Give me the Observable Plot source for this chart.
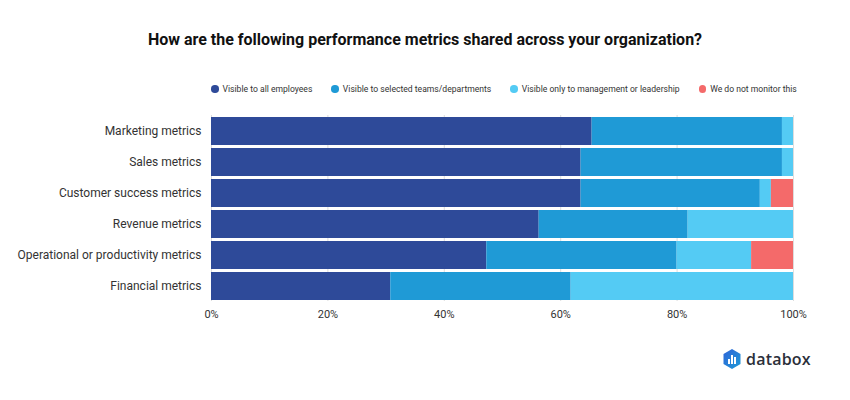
<!DOCTYPE html>
<html>
<head>
<meta charset="utf-8">
<script src="https://cdn.jsdelivr.net/npm/d3@7"></script>
<script src="https://cdn.jsdelivr.net/npm/@observablehq/plot@0.6"></script>
<style>
  html, body { margin: 0; padding: 0; background: #fff; }
  body { width: 850px; height: 400px; position: relative; font-family: Roboto, "Noto Sans", sans-serif; overflow: hidden; }
  #title { position: absolute; left: 0; top: 30px; width: 850px; text-align: center; font-weight: 700; font-size: 16px; color: #111; line-height: 20px; }
  #legend { position: absolute; top: 83px; left: 211px; display: flex; font-size: 8.6px; color: #333; line-height: 12px; white-space: nowrap; }
  #legend .item { display: flex; align-items: center; margin-right: 19px; flex: none; }
  #legend .dot { width: 7.5px; height: 7.5px; border-radius: 50%; margin-right: 4px; }
  #chart { position: absolute; left: 0; top: 99px; }
  #logo { position: absolute; left: 723px; top: 348px; display: flex; align-items: center; }
  #logo span { font-family: "Open Sans", Roboto, sans-serif; font-weight: 600; font-size: 16px; color: #2b2f3a; margin-left: 5px; letter-spacing: 0.2px; }
</style>
</head>
<body>
<div id="title">How are the following performance metrics shared across your organization?</div>
<div id="legend"></div>
<div id="chart"></div>
<div id="logo">
  <svg width="18" height="20" viewBox="0 0 18 20">
    <defs><linearGradient id="lg" x1="0" y1="0" x2="1" y2="1"><stop offset="0" stop-color="#2f64d8"/><stop offset="1" stop-color="#1f9ad6"/></linearGradient></defs>
    <path d="M9 0 L17.5 5 L17.5 15 L9 20 L0.5 15 L0.5 5 Z" fill="url(#lg)"/>
    <rect x="5" y="10" width="2" height="5" fill="#fff"/>
    <rect x="8" y="6" width="2" height="9" fill="#fff"/>
    <rect x="11" y="8" width="2" height="7" fill="#fff"/>
  </svg>
  <span>databox</span>
</div>
<script>
const categories = [
  "Marketing metrics",
  "Sales metrics",
  "Customer success metrics",
  "Revenue metrics",
  "Operational or productivity metrics",
  "Financial metrics"
];
const series = [
  "Visible to all employees",
  "Visible to selected teams/departments",
  "Visible only to management or leadership",
  "We do not monitor this"
];
const allEmployees   = [65.4, 63.5, 63.5, 56.3, 47.3, 30.8];
const selectedTeams  = [32.7, 34.6, 30.8, 25.6, 32.7, 31.0];
const managementOnly = [1.9, 1.9, 1.9, 18.1, 12.8, 38.2];
const notMonitored   = [0, 0, 3.8, 0, 7.2, 0];
const colors = ["#2e4a99", "#1f9ad6", "#54cbf4", "#f46a6a"];
const xTicks = [0, 20, 40, 60, 80, 100];

const seriesValues = [allEmployees, selectedTeams, managementOnly, notMonitored];
const data = [];
series.forEach((s, si) => {
  categories.forEach((c, ci) => {
    data.push({category: c, series: s, value: seriesValues[si][ci]});
  });
});

// legend
const legend = document.getElementById("legend");
series.forEach((s, i) => {
  const item = document.createElement("div");
  item.className = "item";
  const dot = document.createElement("div");
  dot.className = "dot";
  dot.style.background = colors[i];
  const label = document.createElement("span");
  label.textContent = s;
  item.appendChild(dot);
  item.appendChild(label);
  legend.appendChild(item);
});

const chart = Plot.plot({
  width: 850,
  height: 240,
  marginLeft: 211,
  marginRight: 57,
  marginTop: 16,
  marginBottom: 38,
  style: {fontFamily: "Roboto, sans-serif", color: "#333", background: "transparent"},
  x: {domain: [0, 100], label: null},
  y: {domain: categories, label: null, paddingInner: 0.1, paddingOuter: 0},
  color: {domain: series, range: colors},
  marks: [
    Plot.ruleX(xTicks, {stroke: "#dddddd", strokeWidth: 1}),
    Plot.barX(data, {x: "value", y: "category", fill: "series", order: series}),
    Plot.axisX({ticks: xTicks, tickFormat: d => d + "%", tickSize: 0, tickPadding: 9, fontSize: 11, label: null}),
    Plot.axisY({tickSize: 0, tickPadding: 10, fontSize: 12, label: null})
  ]
});
document.getElementById("chart").appendChild(chart);
</script>
</body>
</html>
